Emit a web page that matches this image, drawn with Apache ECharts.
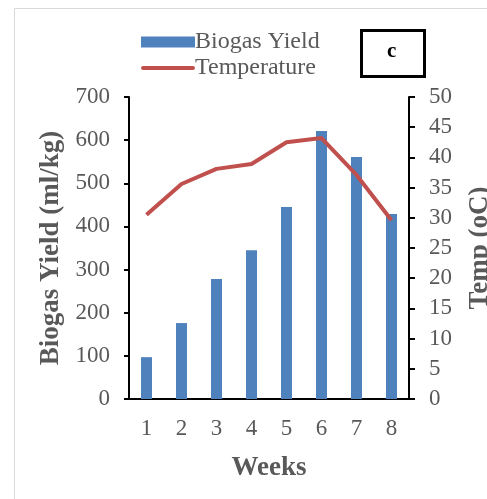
<!DOCTYPE html>
<html><head><meta charset="utf-8">
<script src="https://cdn.jsdelivr.net/npm/echarts@6/dist/echarts.min.js"></script>
<style>html,body{margin:0;padding:0;background:#fff}#c{width:487px;height:499px}</style>
</head><body><div id="c"></div>
<script>
const weeks = ['1','2','3','4','5','6','7','8'];
const biogasYield = [97, 176, 278, 345, 445, 621, 561, 429];
const temperature = [30.5, 35.6, 38.1, 38.9, 42.5, 43.2, 37.1, 29.6];
const font = 'Liberation Serif';
const grey = '#595959';
const chart = echarts.init(document.getElementById('c'));
chart.setOption({
  animation: false,
  textStyle: {fontFamily: font},
  graphic: [
    {type:'rect', shape:{x:14.5,y:8.5,width:520,height:520}, style:{fill:'none', stroke:'#d9d9d9', lineWidth:1}, z:-10},
    {type:'rect', shape:{x:361.5,y:30.5,width:63,height:46}, style:{fill:'#fff', stroke:'#000', lineWidth:3}},
    {type:'text', left:387, top:41, style:{text:'c', font:'bold 21px "Liberation Serif"', fill:'#000'}}
  ],
  legend: {
    orient:'vertical', left:136, top:25, itemGap:2, itemWidth:54, itemHeight:11,
    textStyle:{fontFamily:font, fontSize:24, color:grey, padding:[0,0,0,-5]},
    data:[{name:'Biogas Yield', icon:'rect'}, {name:'Temperature', icon:'path://M2,0L52,0A2,2 0 0 1 52,4L2,4A2,2 0 0 1 2,0Z'}]
  },
  grid: {left:129, right:78, top:97, bottom:100, containLabel:false, outerBoundsMode:'none'},
  xAxis: {
    type:'category', data:weeks,
    axisLine:{lineStyle:{color:'#000', width:2}},
    axisTick:{show:false},
    axisLabel:{fontFamily:font, fontSize:23, color:grey, margin:18},
    name:'Weeks', nameLocation:'middle', nameGap:56,
    nameTextStyle:{fontFamily:font, fontSize:27, fontWeight:'bold', color:grey}
  },
  yAxis: [
    {type:'value', min:0, max:700, interval:100,
     axisLine:{show:true, lineStyle:{color:'#000', width:2}},
     axisTick:{show:true, length:5, lineStyle:{color:'#000', width:2}},
     splitLine:{show:false},
     axisLabel:{fontFamily:font, fontSize:23, color:grey, margin:19},
     name:'Biogas Yield (ml/kg)', nameLocation:'middle', nameGap:62, nameRotate:90,
     nameTextStyle:{fontFamily:font, fontSize:27, fontWeight:'bold', color:grey}},
    {type:'value', min:0, max:50, interval:5, position:'right',
     axisLine:{show:true, lineStyle:{color:'#000', width:2}},
     axisTick:{show:true, length:6, lineStyle:{color:'#000', width:2}},
     splitLine:{show:false},
     axisLabel:{fontFamily:font, fontSize:23, color:grey, margin:20},
     name:'Temp (oC)', nameLocation:'middle', nameGap:58, nameRotate:90,
     nameTextStyle:{fontFamily:font, fontSize:27, fontWeight:'bold', color:grey}}
  ],
  series: [
    {name:'Biogas Yield', type:'bar', data:biogasYield, barWidth:11,
     itemStyle:{color:'#4f81bd'}},
    {name:'Temperature', type:'line', yAxisIndex:1, data:temperature,
     symbol:'none', lineStyle:{color:'#c0504d', width:4}, itemStyle:{color:'#c0504d'}}
  ]
});
</script></body></html>
